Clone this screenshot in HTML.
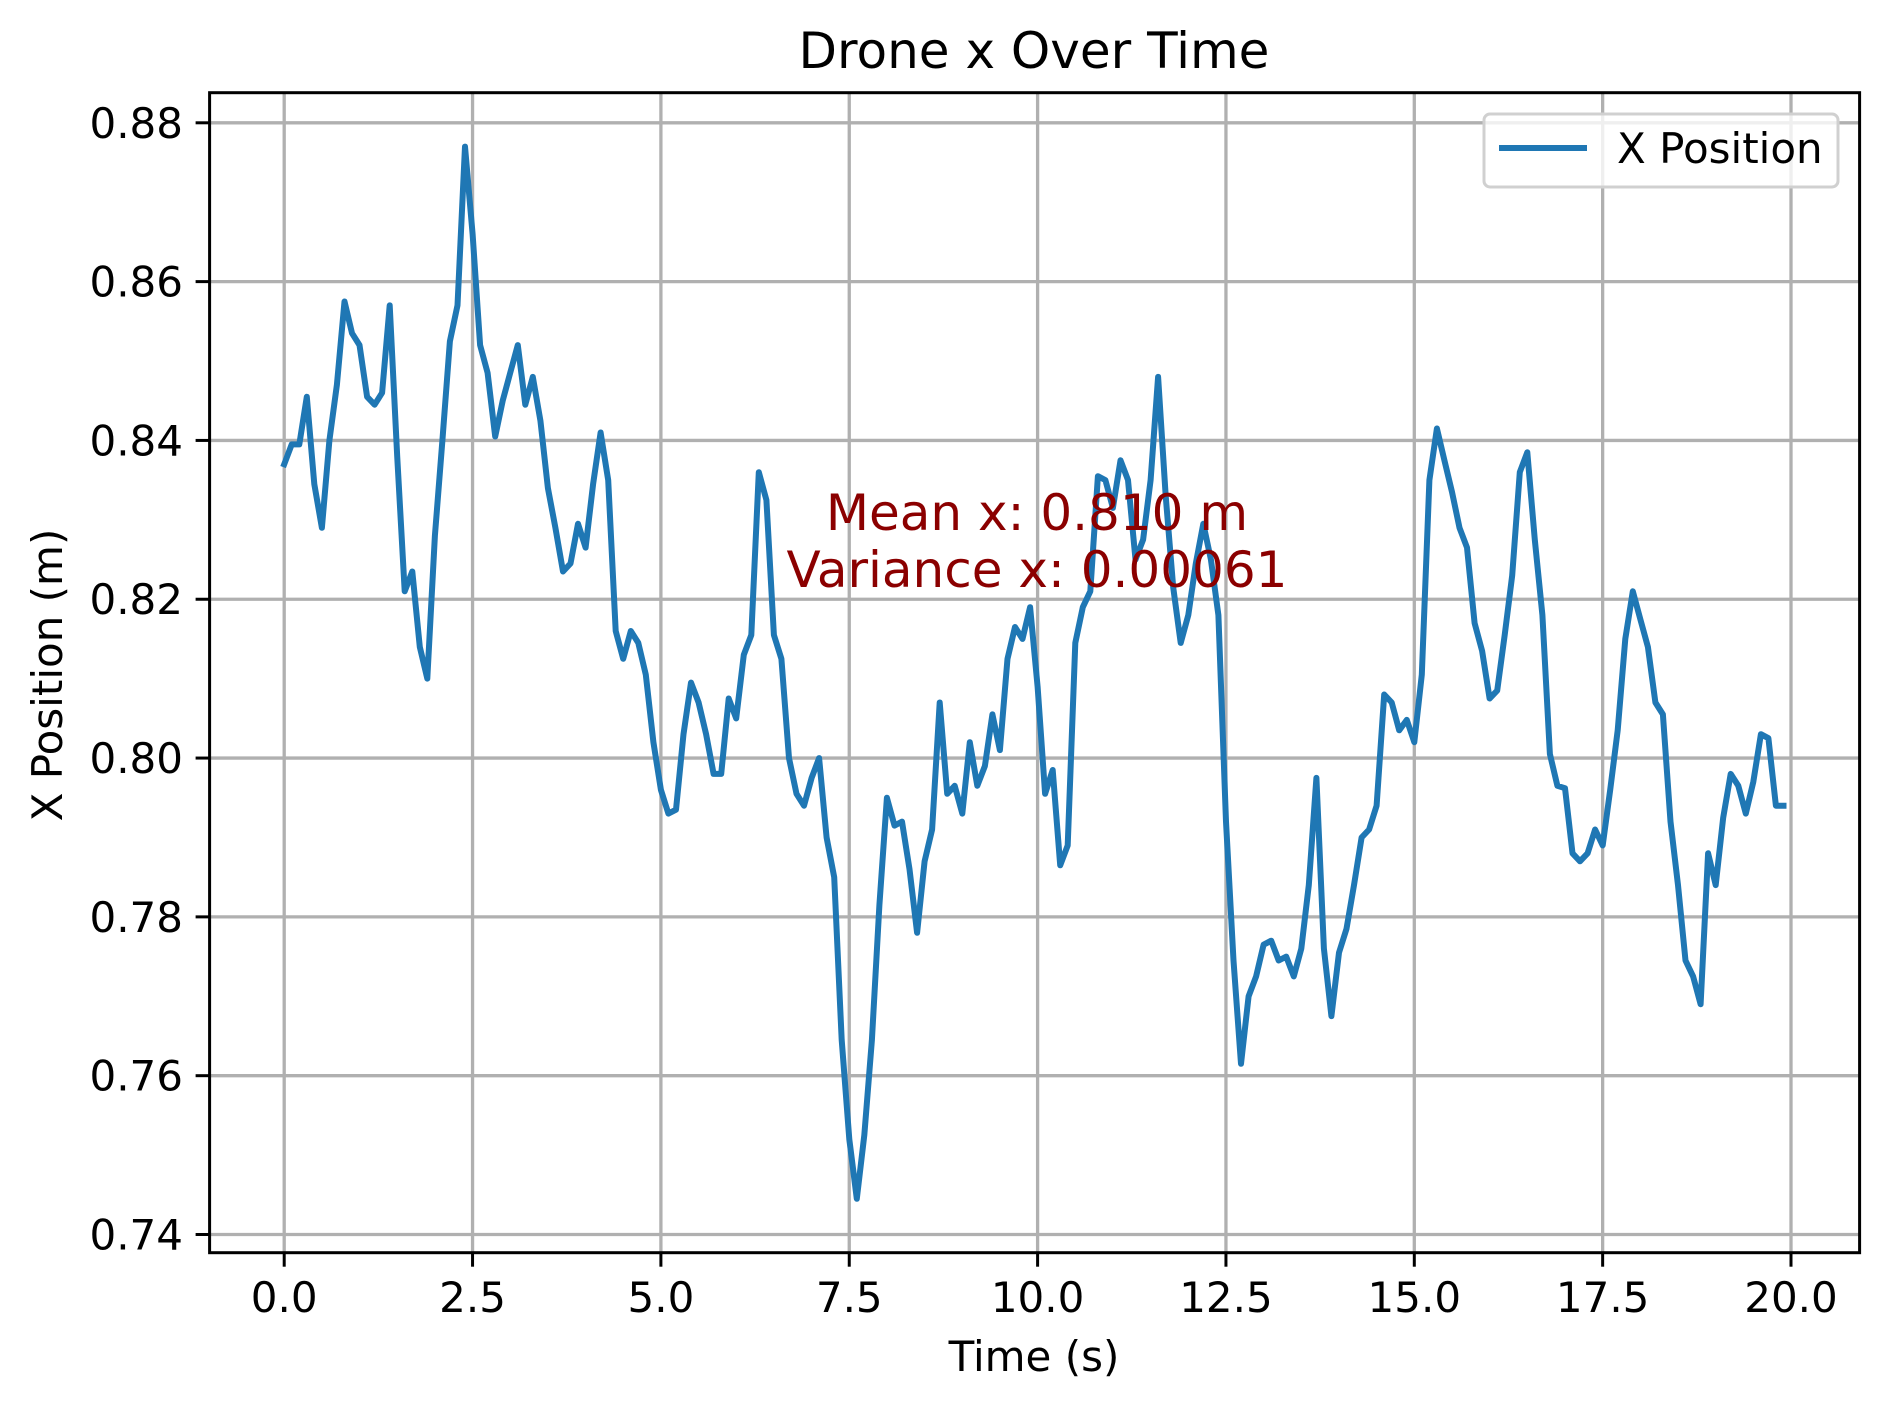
<!DOCTYPE html>
<html><head><meta charset="utf-8"><style>
html,body{margin:0;padding:0;background:#fff}
svg{display:block;font-family:"DejaVu Sans","Liberation Sans",sans-serif}
</style></head><body>
<svg id="chart" width="1887" height="1408" viewBox="0 0 1887 1408" xmlns="http://www.w3.org/2000/svg">
<rect x="0" y="0" width="1887" height="1408" fill="#fff"/>
<g id="grid"></g>
<g id="ticks"></g>
<path id="series" fill="none" stroke="#1f77b4" stroke-width="6" stroke-linejoin="round" stroke-linecap="square"/>
<rect x="209.6" y="92.7" width="1650" height="1160" fill="none" stroke="#000" stroke-width="3"/>
<text x="1034" y="68" font-size="50" text-anchor="middle">Drone x Over Time</text>
<text x="1034" y="1371" font-size="42" text-anchor="middle">Time (s)</text>
<text transform="translate(62,675) rotate(-90)" font-size="42" text-anchor="middle">X Position (m)</text>
<g fill="#8b0000" font-size="50" text-anchor="middle">
<text x="1037" y="530">Mean x: 0.810 m</text>
<text x="1037" y="587">Variance x: 0.00061</text>
</g>
<g>
<rect x="1484" y="114" width="354" height="73" rx="6" fill="#fff" fill-opacity="0.8" stroke="#d0d0d0" stroke-width="3"/>
<line x1="1499" y1="148" x2="1587" y2="148" stroke="#1f77b4" stroke-width="6"/>
<text x="1617" y="163" font-size="42">X Position</text>
</g>
</svg>
<script>
const times = [];
const xValues = [0.837,0.8395,0.8395,0.8455,0.8345,0.829,0.840,0.847,0.8575,0.8535,0.852,0.8455,0.8445,0.846,0.857,0.838,0.821,0.8235,0.814,0.810,
0.828,0.840,0.8525,0.857,0.877,0.866,0.852,0.8485,0.8405,0.845,0.8485,0.852,0.8445,0.848,0.8425,0.834,0.829,0.8235,0.8245,0.8295,
0.8265,0.8345,0.841,0.835,0.816,0.8125,0.816,0.8145,0.8105,0.802,0.796,0.793,0.7935,0.803,0.8095,0.807,0.803,0.798,0.798,0.8075,
0.805,0.813,0.8155,0.836,0.8325,0.8155,0.8125,0.800,0.7955,0.794,0.7975,0.800,0.790,0.785,0.7645,0.752,0.7445,0.7525,0.7645,0.7815,
0.795,0.7915,0.792,0.786,0.778,0.787,0.791,0.807,0.7955,0.7965,0.793,0.802,0.7965,0.799,0.8055,0.801,0.8125,0.8165,0.815,0.819,
0.809,0.7955,0.7985,0.7865,0.789,0.8145,0.819,0.821,0.8355,0.835,0.8315,0.8375,0.835,0.825,0.8275,0.835,0.848,0.833,0.8215,0.8145,
0.818,0.8245,0.8295,0.825,0.818,0.792,0.7745,0.7615,0.770,0.7725,0.7765,0.777,0.7745,0.775,0.7725,0.776,0.784,0.7975,0.776,0.7675,
0.7755,0.7785,0.784,0.790,0.791,0.794,0.808,0.807,0.8035,0.8048,0.802,0.8105,0.835,0.8415,0.8375,0.8335,0.829,0.8265,0.817,0.8135,
0.8075,0.8085,0.8155,0.823,0.836,0.8385,0.8275,0.818,0.8005,0.7965,0.7962,0.788,0.787,0.788,0.791,0.789,0.796,0.8035,0.815,0.821,
0.8175,0.814,0.807,0.8055,0.792,0.784,0.7745,0.7725,0.769,0.788,0.784,0.7925,0.798,0.7965,0.793,0.797,0.803,0.8025,0.794,0.794];
for (let i = 0; i < xValues.length; i++) times.push(i * 0.1);
const xTickValues = [0,2.5,5,7.5,10,12.5,15,17.5,20];
const xTickLabels = ["0.0","2.5","5.0","7.5","10.0","12.5","15.0","17.5","20.0"];
const yTickValues = [0.74,0.76,0.78,0.80,0.82,0.84,0.86,0.88];
const yTickLabels = ["0.74","0.76","0.78","0.80","0.82","0.84","0.86","0.88"];

const X0 = 284.2, XS = (1791 - 284.2) / 20;
const Y0 = 122.8, YS = (1234.5 - 122.8) / 0.14;
const LEFT = 209.6, RIGHT = 1859.6, TOP = 92.7, BOTTOM = 1252.7;
function sx(t){ return X0 + t * XS; }
function sy(v){ return Y0 + (0.88 - v) * YS; }
const NS = "http://www.w3.org/2000/svg";
const grid = document.getElementById('grid');
const ticks = document.getElementById('ticks');
function mk(tag, attrs, parent){ const e = document.createElementNS(NS, tag); for (const k in attrs) e.setAttribute(k, attrs[k]); parent.appendChild(e); return e; }
xTickValues.forEach((v, i) => {
  const x = sx(v);
  const g = mk('line', {x1:x, x2:x, y1:TOP, y2:BOTTOM, stroke:'#b0b0b0', 'stroke-width':3.3}, grid);
  
  
  const t = mk('line', {x1:x, x2:x, y1:BOTTOM, y2:BOTTOM + 14, stroke:'#000', 'stroke-width':3}, ticks);
  
  
  const l = mk('text', {x:x, y:1312, 'font-size':42, 'text-anchor':'middle'}, ticks);
  l.textContent = xTickLabels[i];
  
  
});
yTickValues.forEach((v, i) => {
  const y = sy(v);
  const g = mk('line', {x1:LEFT, x2:RIGHT, y1:y, y2:y, stroke:'#b0b0b0', 'stroke-width':3.3}, grid);
  
  
  const t = mk('line', {x1:LEFT - 14, x2:LEFT, y1:y, y2:y, stroke:'#000', 'stroke-width':3}, ticks);
  
  
  const l = mk('text', {x:183, y:y + 15, 'font-size':42, 'text-anchor':'end'}, ticks);
  l.textContent = yTickLabels[i];
  
  
});
let d = '';
xValues.forEach((v, i) => { d += (i ? 'L' : 'M') + sx(times[i]).toFixed(1) + ',' + sy(v).toFixed(1); });
document.getElementById('series').setAttribute('d', d);
</script>
</body></html>
